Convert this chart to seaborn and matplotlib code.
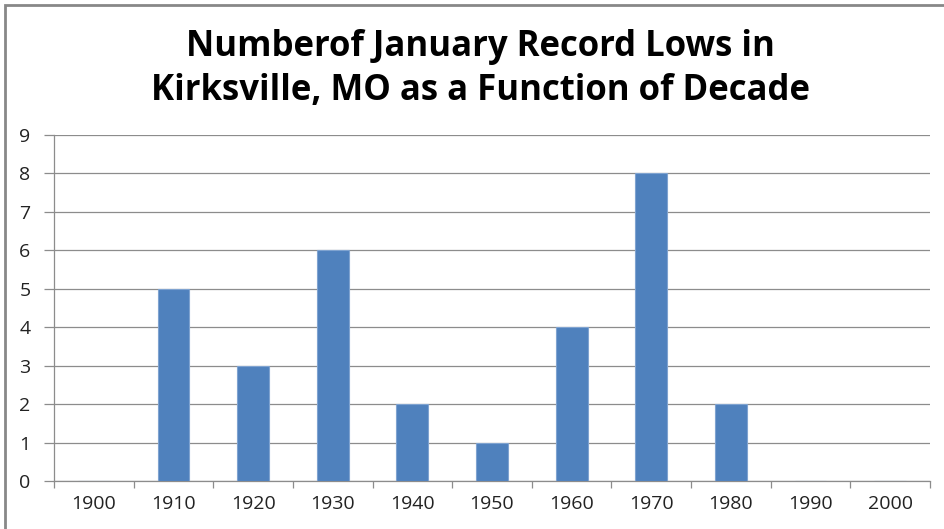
import matplotlib
matplotlib.use("Agg")
import matplotlib.pyplot as plt
import seaborn as sns
import pandas as pd
from matplotlib.patches import Rectangle

# Data
decades = ["1900", "1910", "1920", "1930", "1940", "1950",
           "1960", "1970", "1980", "1990", "2000"]
record_lows = [0, 5, 3, 6, 2, 1, 4, 8, 2, 0, 0]
y_ticks = list(range(0, 10))

df = pd.DataFrame({"Decade": decades, "Lows": record_lows})

sns.set_style("white")
plt.rcParams["font.family"] = ["Open Sans", "DejaVu Sans"]

fig = plt.figure(figsize=(9.45, 5.29), dpi=100)
ax = fig.add_axes([54 / 945, 1 - 481 / 529, (930 - 54) / 945, (481 - 135) / 529])

sns.barplot(data=df, x="Decade", y="Lows", color="#4F81BD", saturation=1,
            width=0.4, ax=ax, zorder=3, edgecolor="#7FA3D0", linewidth=0.8)

ax.set_xlim(-0.5, len(decades) - 0.5)
ax.set_ylim(0, 9)
ax.set_yticks(y_ticks)
ax.yaxis.grid(True, color="#8C8C8C", linewidth=0.9, zorder=0)
ax.set_xlabel("")
ax.set_ylabel("")

# tick marks between categories
ax.set_xticks([i + 0.5 for i in range(-1, len(decades))], minor=True)
ax.tick_params(axis="x", which="major", length=0, labelsize=14, pad=10, colors="#222222")
ax.tick_params(axis="x", which="minor", length=5, color="#8C8C8C", width=0.9, bottom=True)
ax.tick_params(axis="y", length=7, width=0.9, labelsize=14, pad=10, left=True)
ax.tick_params(axis="y", colors="#8C8C8C", labelcolor="#222222")

for side in ["top", "right"]:
    ax.spines[side].set_visible(False)
for side in ["left", "bottom"]:
    ax.spines[side].set_color("#8C8C8C")
    ax.spines[side].set_linewidth(0.9)

fig.text(0.508, 1 - 69 / 529, "Numberof January Record Lows in\nKirksville, MO as a Function of Decade",
         ha="center", va="center", fontsize=25, fontweight="bold", linespacing=1.3,
         color="black", family=["Open Sans", "DejaVu Sans"])

# outer chart frame (extends past right and bottom edges)
fig.patches.append(Rectangle((5 / 945, -0.05), 1.0, 1 - 5 / 529 + 0.05,
                             transform=fig.transFigure, fill=False,
                             edgecolor="#888888", linewidth=2, clip_on=False))

fig.savefig("out.png", dpi=100)
